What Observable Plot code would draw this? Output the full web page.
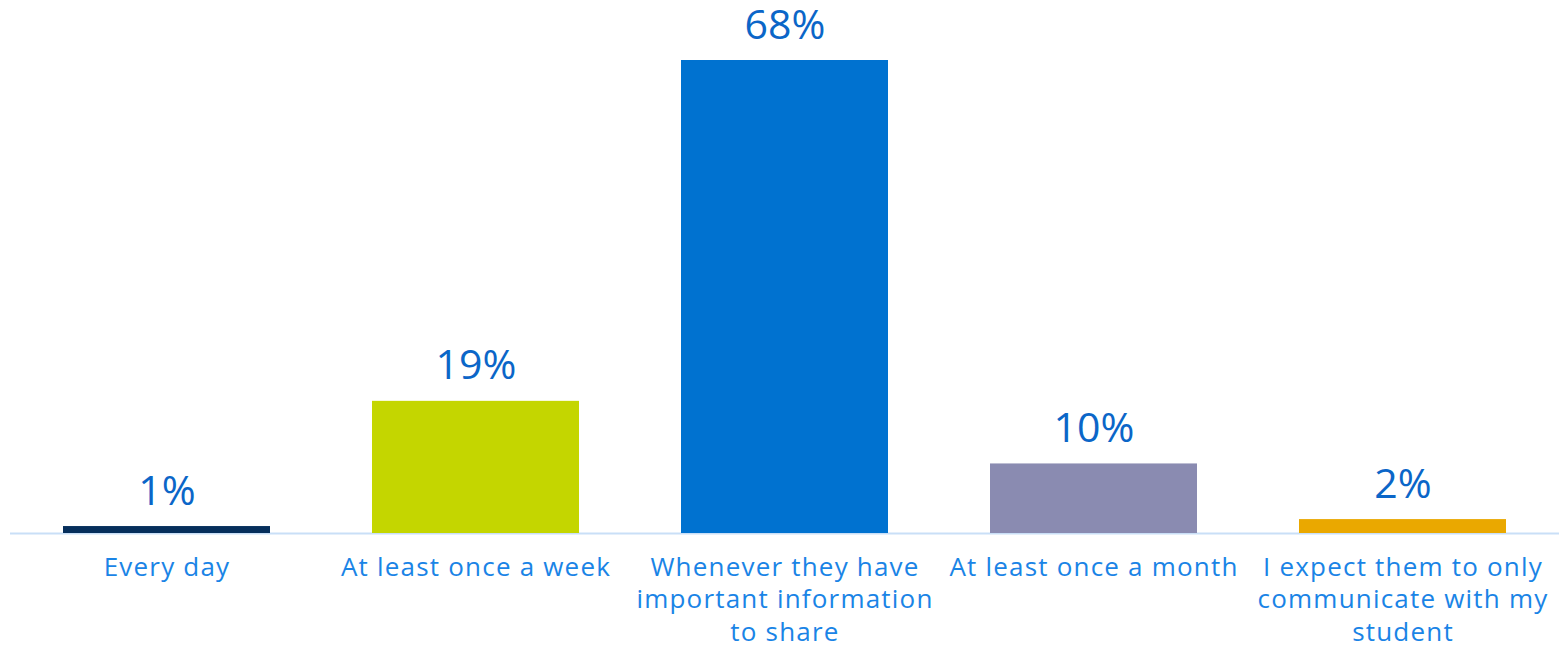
<!DOCTYPE html>
<html>
<head>
<meta charset="utf-8">
<script src="https://cdn.jsdelivr.net/npm/d3@7"></script>
<script src="https://cdn.jsdelivr.net/npm/@observablehq/plot@0.6"></script>
<style>
  html, body { margin: 0; padding: 0; background: #fff; }
  #chart svg { display: block; }
  #chart .cat text, #chart text.cat, #chart g.cat { letter-spacing: 1.2px; }
</style>
</head>
<body>
<div id="chart"></div>
<script>
const categories = [
  "Every day",
  "At least once a week",
  "Whenever they have important information to share",
  "At least once a month",
  "I expect them to only communicate with my student"
];
const tickLabels = [
  "Every day",
  "At least once a week",
  "Whenever they have\nimportant information\nto share",
  "At least once a month",
  "I expect them to only\ncommunicate with my\nstudent"
];
const values = [1, 19, 68, 10, 2];
const colors = ["#062f5c", "#c4d600", "#0072d0", "#8a8bb1", "#eaa800"];

const data = categories.map((c, i) => ({category: c, value: values[i], label: tickLabels[i], color: colors[i]}));

const chart = Plot.plot({
  width: 1559,
  height: 646,
  marginLeft: 10,
  marginRight: 0,
  marginTop: 60,
  marginBottom: 113,
  style: {fontFamily: "'Open Sans', sans-serif", background: "#fff"},
  x: {domain: categories, paddingInner: 0.331, paddingOuter: 0.1655, axis: null},
  y: {domain: [0, 68], axis: null},
  marks: [
    Plot.ruleY([0], {stroke: "#c9dff7", strokeWidth: 2}),
    Plot.barY(data, {x: "category", y: "value", fill: "color"}),
    Plot.text(data, {
      x: "category", y: "value", text: d => d.value + "%",
      lineAnchor: "bottom", dy: -22, fontSize: 41, fill: "#0b66c8"
    }),
    Plot.text(data, {
      x: "category", text: "label", frameAnchor: "bottom",
      lineAnchor: "top", dy: 19, fontSize: 26, lineHeight: 1.25,
      fill: "#1a84e6", className: "cat"
    })
  ]
});
document.getElementById("chart").appendChild(chart);
</script>
</body>
</html>
